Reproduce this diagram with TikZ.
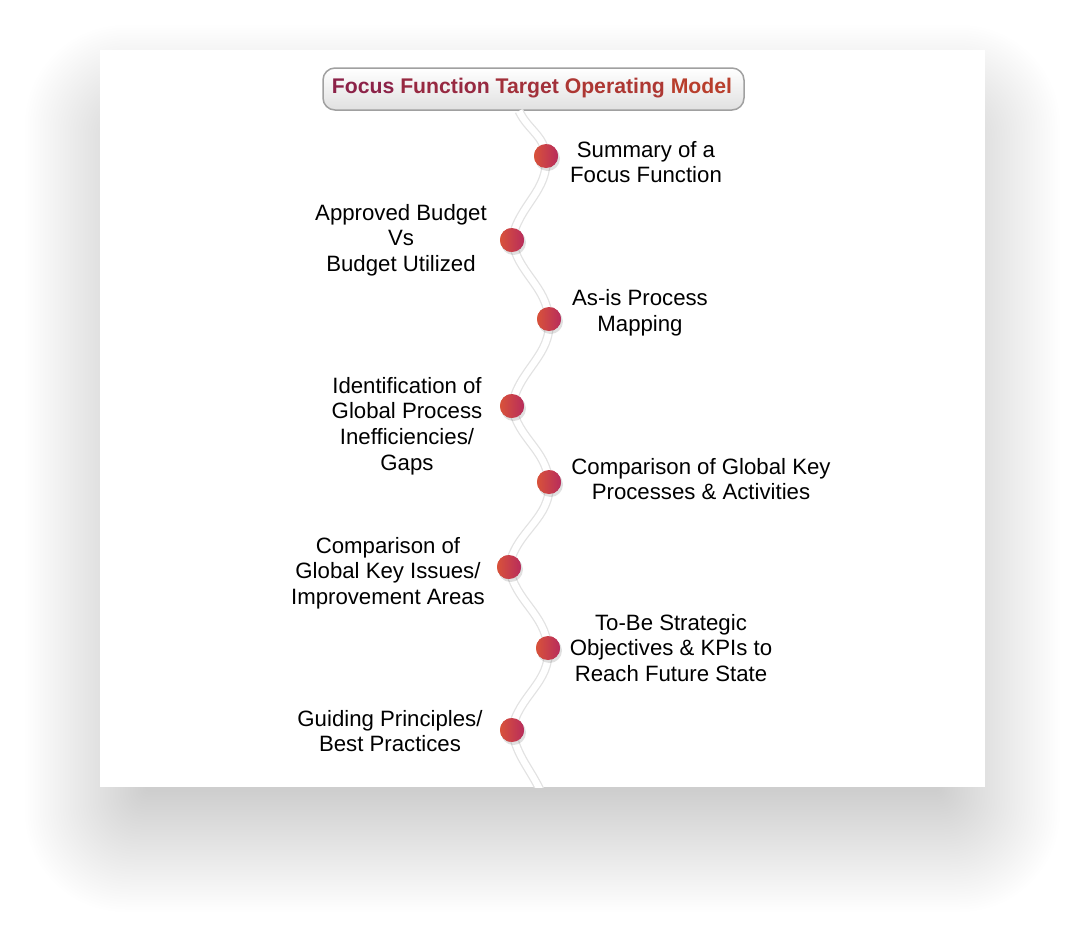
\documentclass[tikz,border=0pt]{standalone}
\usepackage{fontspec}
\setmainfont{Liberation Sans}
\usetikzlibrary{shadings}
\definecolor{dotL}{RGB}{216,82,58}
\definecolor{dotR}{RGB}{184,44,92}
\definecolor{titleL}{RGB}{140,34,72}
\definecolor{titleR}{RGB}{184,62,44}
\definecolor{roadedge}{RGB}{226,226,226}
\definecolor{boxedge}{RGB}{160,160,160}
\tikzset{
  stop/.style={circle, minimum size=24pt, inner sep=0pt, left color=dotL, right color=dotR},
  stoptext/.style={align=center, font=\fontsize{22.2}{25.6}\selectfont, inner sep=0pt},
  road/.style={line width=9pt, roadedge},
  roadin/.style={line width=6.5pt, white}
}
\begin{document}
\begin{tikzpicture}[x=1pt, y=-1pt]
\useasboundingbox (0,0) rectangle (1085,938);
% soft shadow of the card
\foreach \i in {0,...,48}{
  \pgfmathsetmacro\e{-45+2.5*\i}
  \pgfmathsetmacro\r{max(1,0.8*(\e+50))}
  \fill[black, opacity=0.005, rounded corners=\r pt] (100-\e, 100-\e) rectangle (985+\e, 837+\e);
}
\fill[white] (100,50) rectangle (985,787);
% title
\node[draw=boxedge, line width=1.5pt, rounded corners=12pt, top color=white, bottom color=black!12,
  minimum width=421pt, minimum height=42pt, inner sep=0pt] (title) at (533.5,89) {};
\coordinate (top) at (519,111);
\coordinate (bot) at (541,792);
% stops
\node[stop] (s1) at (546,156){};
\node[stop] (s2) at (512,240){};
\node[stop] (s3) at (549,319){};
\node[stop] (s4) at (512,406){};
\node[stop] (s5) at (549,482){};
\node[stop] (s6) at (509,567){};
\node[stop] (s7) at (548,648){};
\node[stop] (s8) at (512,730){};
% road
\begin{scope}
\clip (100,50) rectangle (985,787);
\foreach \w in {road,roadin}
  \draw[\w] (top) to[out=-65,in=95] (s1.center) to[out=-85,in=80] (s2.center)
    to[out=-80,in=95] (s3.center) to[out=-85,in=80] (s4.center)
    to[out=-80,in=95] (s5.center) to[out=-85,in=80] (s6.center)
    to[out=-80,in=95] (s7.center) to[out=-85,in=80] (s8.center)
    to[out=-80,in=115] (bot);
\end{scope}
% dots again, over the road
\foreach \s in {s1,s2,s3,s4,s5,s6,s7,s8}{
  \fill[black, opacity=0.12] ([xshift=1.5pt,yshift=-2.5pt]\s.center) circle (12.5pt);
  \node[stop] at (\s) {};
}
\node[font=\fontsize{21.2}{24}\selectfont\bfseries, inner sep=0pt] (titletext) at (532,88)
  {\color{titleL}Focus \color{titleL!75!titleR}Function \color{titleL!50!titleR}Target
   \color{titleL!25!titleR}Operating \color{titleR}Model};
% labels
\node[stoptext] (t1) at (646,162) {Summary of a\\Focus Function};
\node[stoptext] (t2) at (401,240) {Approved Budget\\Vs\\Budget Utilized};
\node[stoptext] (t3) at (640,313) {As-is Process\\Mapping};
\node[stoptext] (t4) at (407,426) {Identification of\\Global Process\\Inefficiencies/\\Gaps};
\node[stoptext] (t5) at (701,479) {Comparison of Global Key\\Processes \& Activities};
\node[stoptext] (t6) at (388,573) {Comparison of\\Global Key Issues/\\Improvement Areas};
\node[stoptext] (t7) at (671,648) {To-Be Strategic\\Objectives \& KPIs to\\Reach Future State};
\node[stoptext] (t8) at (390,731) {Guiding Principles/\\Best Practices};
\end{tikzpicture}
\end{document}
